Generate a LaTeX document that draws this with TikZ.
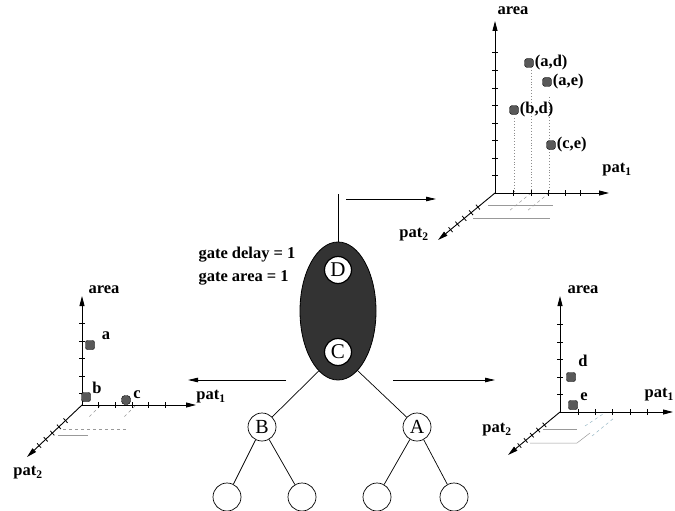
\documentclass[tikz,border=0pt]{standalone}
\usepackage{fontspec}
\setmainfont{Liberation Serif}
\usetikzlibrary{arrows.meta,positioning,shapes.geometric,calc,backgrounds}

\begin{document}
\begin{tikzpicture}[
  x=1pt,
  y=-1pt,
  font=\fontsize{16.5}{23}\selectfont\bfseries,
  axis/.style={
    line width=0.9pt,
    -{Triangle[length=10pt,width=5pt]}
  },
  arr/.style={
    line width=0.8pt,
    -{Triangle[length=10pt,width=4.5pt]}
  },
  tick/.style={line width=0.8pt},
  blob/.style={
    rectangle,
    rounded corners=2pt,
    draw=black,
    fill=black!65,
    minimum size=9pt,
    inner sep=0pt
  },
  floor/.style={black!40, line width=0.5pt},
  drop/.style={black!45, line width=0.9pt, dotted},
  gatenode/.style={
    circle,
    draw,
    fill=white,
    line width=1.2pt,
    minimum size=27pt,
    inner sep=0pt,
    font=\fontsize{21}{21}\selectfont
  },
  treenode/.style={
    circle,
    draw,
    line width=0.7pt,
    minimum size=28pt,
    inner sep=0pt,
    font=\fontsize{20}{20}\selectfont
  },
  edge/.style={line width=0.7pt}
]
\useasboundingbox (0,0) rectangle (675,511);

% merged gate
\node[
  ellipse,
  draw,
  fill=black!80,
  line width=0.8pt,
  minimum width=76pt,
  minimum height=138pt,
  inner sep=0pt
] (gate) at (338,311) {};
\node[gatenode] (D) at (338,270) {D};
\node[gatenode] (C) at (338,352) {C};
\coordinate (out) at (338,194);
\draw[edge] (out) -- (gate);
\node[anchor=west, align=left] (cost) at (195,266)
{gate delay = 1\\gate area = 1};

% fanin tree
\node[treenode] (B) at (262,427) {B};
\node[treenode] (A) at (417,427) {A};
\node[treenode] (leafa) at (227,497) {};
\node[treenode] (leafb) at (302,497) {};
\node[treenode] (leafc) at (377,497) {};
\node[treenode] (leafd) at (454,497) {};
\begin{scope}[on background layer]
  \draw[edge] (C) -- (B);
  \draw[edge] (C) -- (A);
\end{scope}
\draw[edge] (B) -- (leafa);
\draw[edge] (B) -- (leafb);
\draw[edge] (A) -- (leafc);
\draw[edge] (A) -- (leafd);

% arrows to the curves
\coordinate (upfrom) at (346,199);
\coordinate (upto) at (436,199);
\coordinate (lfrom) at (286,380);
\coordinate (lto) at (188,380);
\coordinate (rfrom) at (393,380);
\coordinate (rto) at (495,380);
\draw[arr] (upfrom) -- (upto);
\draw[arr] (lfrom) -- (lto);
\draw[arr] (rfrom) -- (rto);

% left curve: B, C alone
\coordinate (o1) at (82,405);
\coordinate (area1) at (82,296);
\coordinate (pa1) at (196,405);
\coordinate (pb1) at (27,457);
\draw[floor, dashed] (63,429) -- (128,429);
\draw[floor] (58,435) -- (88,435);
\draw[floor, dashed] (100,406) -- (88,418);
\draw[floor, dashed] (135,406) -- (123,418);
\draw[axis] (o1) -- (area1);
\draw[axis] (o1) -- (pa1);
\draw[axis] (o1) -- (pb1);
\foreach \y in {323,341,358,376,393}
  \draw[tick] (79,\y) -- (85,\y);
\foreach \x in {98,115,132,148,165}
  \draw[tick] (\x,402) -- (\x,408);
\foreach \t in {0.3,0.42,0.54,0.66,0.78}
  \draw[tick] ($(o1)!\t!(pb1)+(-2,-2.2)$) -- ++(4,4.4);
\node (area1l) at (104,290) {area};
\node (pat1l) at (211,397) {pat\textsubscript{1}};
\node (pat2l) at (28,473) {pat\textsubscript{2}};
\node[blob] (pta) at (90,345) {};
\node[blob] (ptb) at (86,397) {};
\node[blob, rounded corners=3.5pt] (ptc) at (126,400) {};
\node (la) at (106,336) {a};
\node (lb) at (97,388) {b};
\node (lc) at (137,395) {c};

% top curve: D merged
\coordinate (o2) at (495,193);
\coordinate (area2) at (495,21);
\coordinate (pa2) at (609,193);
\coordinate (pb2) at (438,240);
\draw[floor] (488,205) -- (553,205);
\draw[floor] (473,218) -- (550,218);
\draw[floor, dashed] (531,193) -- (509,211);
\draw[floor, dashed] (549,193) -- (527,211);
\draw[drop] (514,118) -- (514,193);
\draw[drop] (531,70) -- (531,193);
\draw[drop] (549,97) -- (549,193);
\draw[axis] (o2) -- (area2);
\draw[axis] (o2) -- (pa2);
\draw[axis] (o2) -- (pb2);
\foreach \y in {52,70,88,105,123,140,158,175}
  \draw[tick] (492,\y) -- (498,\y);
\foreach \x in {513,531,548,565,580}
  \draw[tick] (\x,190) -- (\x,196);
\foreach \t in {0.3,0.42,0.54,0.66,0.78}
  \draw[tick] ($(o2)!\t!(pb2)+(-2,-2.4)$) -- ++(4,4.8);
\node (area2l) at (513,11) {area};
\node (pat1u) at (617,170) {pat\textsubscript{1}};
\node (pat2u) at (414,235) {pat\textsubscript{2}};
\node[blob, rounded corners=2.8pt] (ad) at (529,63) {};
\node[blob, rounded corners=2.8pt] (ae) at (547,82) {};
\node[blob, rounded corners=2.8pt] (bd) at (514,110) {};
\node[blob, rounded corners=2.8pt] (ce) at (551,145) {};
\node[right=0pt of ad, inner sep=1pt] (lad) {(a,d)};
\node[right=0pt of ae, inner sep=1pt] (lae) {(a,e)};
\node[right=0pt of bd, inner sep=1pt] (lbd) {(b,d)};
\node[right=0pt of ce, inner sep=1pt] (lce) {(c,e)};

% right curve: A alone
\coordinate (o3) at (560,412);
\coordinate (area3) at (560,296);
\coordinate (pa3) at (673,412);
\coordinate (pb3) at (508,455);
\draw[floor] (543,429) -- (577,429);
\draw[floor] (530,443) -- (577,443) -- (590,433);
\draw[floor, dashed, cyan!50!black!50] (585,426) -- (603,414);
\draw[floor, dashed, cyan!50!black!50] (592,436) -- (614,418);
\draw[axis] (o3) -- (area3);
\draw[axis] (o3) -- (pa3);
\draw[axis] (o3) -- (pb3);
\foreach \y in {324,342,359,377,394}
  \draw[tick] (557,\y) -- (563,\y);
\foreach \x in {578,595,612,630,647}
  \draw[tick] (\x,409) -- (\x,415);
\foreach \t in {0.3,0.42,0.54,0.66,0.78}
  \draw[tick] ($(o3)!\t!(pb3)+(-1.8,-2.2)$) -- ++(3.6,4.4);
\node (area3l) at (583,290) {area};
\node[anchor=east, inner xsep=1pt] (pat1r) at (675,395) {pat\textsubscript{1}};
\node (pat2r) at (497,430) {pat\textsubscript{2}};
\node[blob] (ptd) at (571,377) {};
\node[blob] (pte) at (573,405) {};
\node (ld) at (583,361) {d};
\node (le) at (584,397) {e};
\end{tikzpicture}
\end{document}
